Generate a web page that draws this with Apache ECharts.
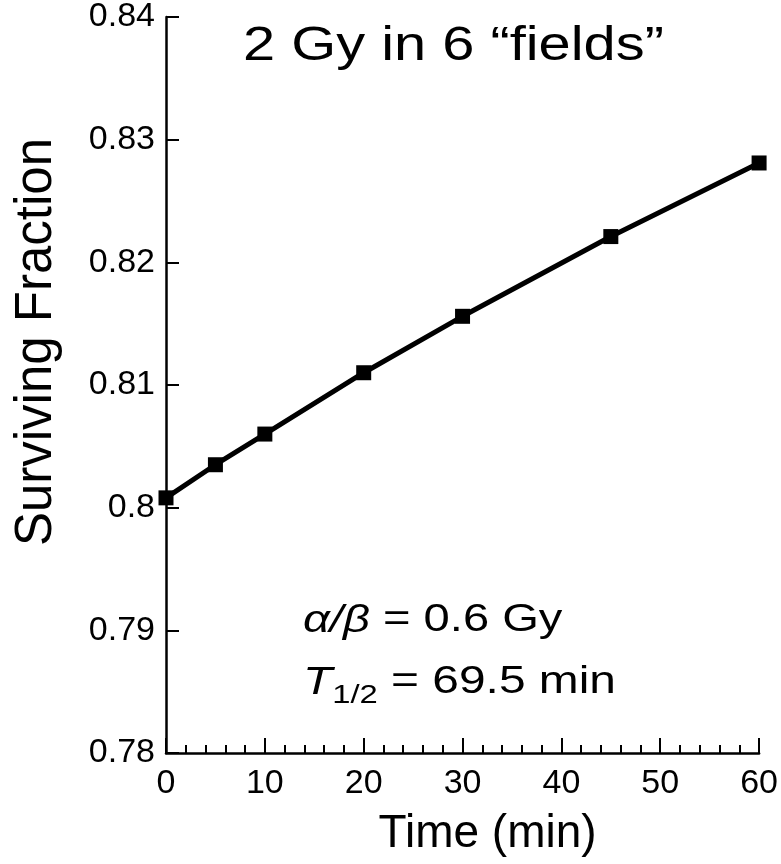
<!DOCTYPE html>
<html>
<head>
<meta charset="utf-8">
<script src="https://cdn.jsdelivr.net/npm/echarts@6/dist/echarts.min.js"></script>
<style>
  html, body { margin: 0; padding: 0; background: #fff; }
  #chart { width: 781px; height: 864px; }
</style>
</head>
<body>
<div id="chart"></div>
<script>
// time points (min) and surviving fraction
const times = [0, 5, 10, 20, 30, 45, 60];
const survFrac = [0.8008, 0.8035, 0.8060, 0.8110, 0.8156, 0.8221, 0.8281];
const titleText = '2 Gy in 6 \u201cfields\u201d';
const xName = 'Time (min)';
const yName = 'Surviving Fraction';

const font = 'Liberation Sans, Arial, sans-serif';

let myChart = echarts.init(document.getElementById('chart'));
let option = {
    backgroundColor: '#fff',
    animation: false,
    grid: { left: 166, right: 19, top: 15, bottom: 111 },
    xAxis: {
        type: 'value',
        min: 0, max: 60, interval: 10,
        name: xName,
        nameLocation: 'middle',
        nameGap: 58,
        nameTextStyle: { fontFamily: font, fontSize: 46, color: '#000', padding: [0, 0, 0, 50] },
        axisLine: { lineStyle: { color: '#000', width: 2.5 } },
        axisTick: { inside: true, length: 15, lineStyle: { color: '#000', width: 2 } },
        minorTick: { show: true, splitNumber: 5, length: 8, lineStyle: { color: '#000', width: 2 } },
        axisLabel: { fontFamily: font, fontSize: 34, color: '#000', margin: 14 },
        splitLine: { show: false }
    },
    yAxis: {
        type: 'value',
        min: 0.78, max: 0.84, interval: 0.01,
        name: yName,
        nameLocation: 'middle',
        nameGap: 104,
        nameTextStyle: { fontFamily: font, fontSize: 51, color: '#000', padding: [0, 0, 0, 86] },
        axisLine: { show: true, lineStyle: { color: '#000', width: 2.5 } },
        axisTick: { show: true, inside: true, length: 13, lineStyle: { color: '#000', width: 2 } },
        axisLabel: { fontFamily: font, fontSize: 34, color: '#000', margin: 11 },
        splitLine: { show: false }
    },
    graphic: [
        {
            type: 'text', left: 243, top: 22,
            style: { text: titleText, font: '49px ' + font, fill: '#000' },
            scaleX: 1.18, originX: 0, originY: 0
        },
        {
            type: 'text', left: 303, top: 602,
            scaleX: 1.24, originX: 0, originY: 0,
            style: {
                text: '{i|\u03b1/\u03b2} = 0.6 Gy',
                font: '38px ' + font, fill: '#000',
                rich: { i: { fontStyle: 'italic', fontSize: 38, fontFamily: font } }
            }
        },
        {
            type: 'text', left: 303, top: 664,
            scaleX: 1.26, originX: 0, originY: 0,
            style: {
                text: '{i|T}{s|1/2} = 69.5 min',
                font: '38px ' + font, fill: '#000',
                rich: {
                    i: { fontStyle: 'italic', fontSize: 38, fontFamily: font },
                    s: { fontSize: 26, fontFamily: font, padding: [26, 0, 0, 0] }
                }
            }
        }
    ],
    series: [
        {
            type: 'line',
            data: times.map((t, i) => [t, survFrac[i]]),
            symbol: 'rect',
            symbolSize: 15,
            showAllSymbol: true,
            lineStyle: { color: '#000', width: 5 },
            itemStyle: { color: '#000' },
            clip: false
        }
    ]
};
myChart.setOption(option);
</script>
</body>
</html>
